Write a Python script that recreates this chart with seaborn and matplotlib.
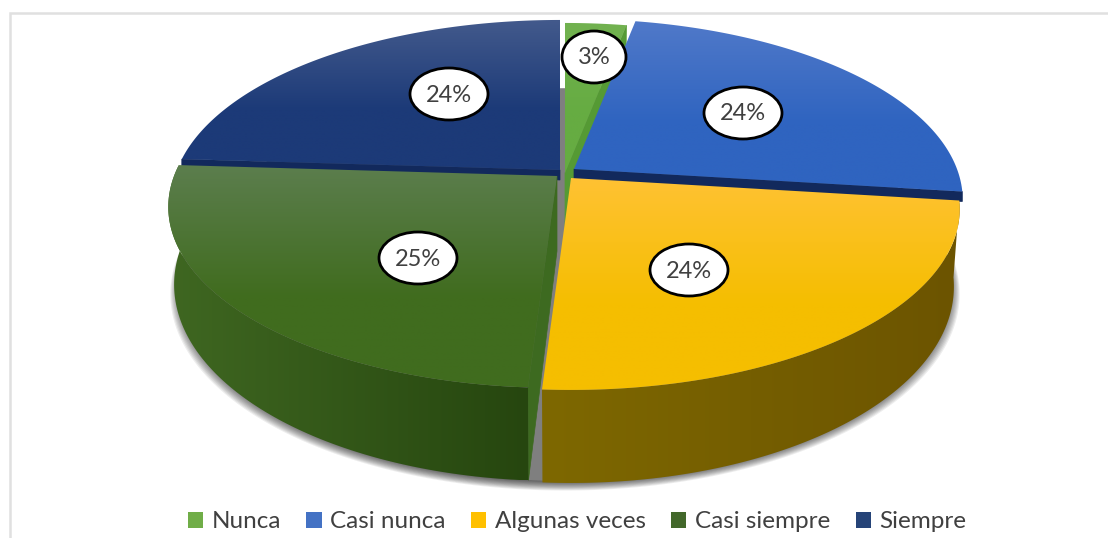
import numpy as np
import matplotlib
matplotlib.use('Agg')
import matplotlib.pyplot as plt
from matplotlib.colors import to_rgb
from matplotlib.patches import Ellipse, Patch, Polygon, Rectangle
import seaborn as sns

categories = ['Nunca', 'Casi nunca', 'Algunas veces', 'Casi siempre', 'Siempre']
values = [3, 24, 24, 25, 24]
legend_colors = ['#70AD47', '#4472C4', '#FFC000', '#43682B', '#264478']

# colores del degradado: superficie (arriba, abajo), pared (izq, der), corte
top_from = ['#72B250', '#5079C9', '#FFC233', '#5C7E4E', '#435A8C']
top_to = ['#66AC42', '#2F64C0', '#F5BE00', '#406C1E', '#1C3A78']
wall_from = ['#4E8A30', '#1F4C9A', '#7E6800', '#3F6721', '#14305F']
wall_to = ['#4E8A30', '#1F4C9A', '#6C5400', '#26460F', '#14305F']
cut_color = ['#559A34', '#12295C', '#7E6800', '#3D6A20', '#12295C']

# centro de cada porcion en pixeles, con su separacion
apex_x = [565, 574, 571, 557, 560]
apex_y = [173, 169, 178, 176, 170]
# orden de dibujo, de atras hacia adelante
draw_order = [4, 0, 1, 3, 2]
# que cara de corte se ve (0 = theta1, -1 = theta2) y cuanto baja
cut_side = [0, 0, None, -1, -1]
cut_depth = [75, 10, 0, 75, 10]
has_wall = [False, False, True, True, False]

label_x = [594, 743, 689, 418, 449]
label_y = [58, 114, 271, 259, 95]
label_w = [64, 78, 78, 78, 78]

CX, B, A = 383.0, 0.171, 175.7  # perspectiva del disco
DROP, SX, SY = 75.0, 0.985, 1.085  # plano inferior

sns.set_theme(style='white')
plt.rcParams['font.family'] = ['Lato', 'Liberation Sans', 'DejaVu Sans']


def project(theta, r, ax0, ay0, lower=False, drop=DROP):
    x = r * np.cos(np.radians(theta))
    y = r * np.sin(np.radians(theta))
    w = 1 + B * y
    px = CX * x / w
    py = A * y / w
    if lower:
        return ax0 + px * SX, ay0 - py * SY + drop
    return ax0 + px, ay0 - py


def gradient_fill(ax, pts, c0, c1, horizontal=False, zorder=2, span=1.0):
    patch = Polygon(pts, closed=True, fc='none', ec='none', zorder=zorder)
    ax.add_patch(patch)
    c0, c1 = np.array(to_rgb(c0)), np.array(to_rgb(c1))
    t = np.clip(np.linspace(0, 1, 256) / span, 0, 1)
    col = c0[None, :] * (1 - t[:, None]) + c1[None, :] * t[:, None]
    img = col[None, :, :] if horizontal else col[:, None, :]
    x0, x1 = pts[:, 0].min(), pts[:, 0].max()
    y0, y1 = pts[:, 1].min(), pts[:, 1].max()
    im = ax.imshow(img, extent=[x0, x1, y1, y0], aspect='auto', zorder=zorder, interpolation='bilinear')
    im.set_clip_path(patch)


def draw_slice(ax, i, theta1, theta2, zorder):
    ax0, ay0 = apex_x[i], apex_y[i]
    th = np.linspace(theta1, theta2, 120)
    tx, ty = project(th, 1.0, ax0, ay0)
    bx, by = project(th, 1.0, ax0, ay0, lower=True)

    # cara de corte visible
    if cut_side[i] is not None:
        k = cut_side[i]
        d = cut_depth[i]
        if d == DROP:
            low_x, low_y = bx[k], by[k]
        else:
            low_x, low_y = tx[k], ty[k] + d
        face = np.array([[ax0, ay0], [tx[k], ty[k]], [low_x, low_y], [ax0, ay0 + d]])
        ax.add_patch(Polygon(face, closed=True, fc=cut_color[i], ec=cut_color[i], lw=0.5, zorder=zorder))

    # pared
    if has_wall[i]:
        wall = np.column_stack([np.r_[tx, bx[::-1]], np.r_[ty, by[::-1]]])
        gradient_fill(ax, wall, wall_from[i], wall_to[i], horizontal=True, zorder=zorder + 0.1)

    # superficie
    top = np.column_stack([np.r_[ax0, tx], np.r_[ay0, ty]])
    gradient_fill(ax, top, top_from[i], top_to[i], zorder=zorder + 0.2, span=0.6)


def main():
    palette = sns.color_palette(legend_colors)
    fig = plt.figure(figsize=(11.08, 5.38), dpi=100, facecolor='white')
    ax = fig.add_axes([0, 0, 1, 1])

    # angulos desde la propia torta de matplotlib
    wedges, _ = ax.pie(values, startangle=90, counterclock=False)
    angles = [(w.theta1, w.theta2) for w in wedges]
    for w in wedges:
        w.remove()

    ax.set_aspect('auto')
    ax.axis('off')

    # marco del grafico
    ax.plot([10, 10, 1108], [538, 13, 13], color='#E0E0E0', lw=1.8, zorder=1, solid_joinstyle='miter')

    # sombra y suelo
    th = np.linspace(0, 360, 360)
    gx, gy = project(th, 1.0, 565, 176, lower=True)
    clip = Rectangle((0, 255), 1108, 283, transform=ax.transData)
    for grow in range(12, 0, -1):
        sx = 565 + (gx - 565) * (1 + grow / 390)
        sy = gy + grow * 0.8
        p = Polygon(np.column_stack([sx, sy]), closed=True, fc='black', ec='none', alpha=0.07, zorder=1.2)
        ax.add_patch(p)
        p.set_clip_path(clip)
    ax.add_patch(Polygon(np.column_stack([gx, gy]), closed=True, fc='#7F7F7F', ec='none', zorder=1.5))

    for n, i in enumerate(draw_order):
        draw_slice(ax, i, angles[i][0], angles[i][1], 2 + n)

    # etiquetas
    for i, v in enumerate(values):
        ax.add_patch(Ellipse((label_x[i], label_y[i] - 1), label_w[i], 52, fc='white', ec='black', lw=2, zorder=10))
        ax.text(label_x[i], label_y[i], f'{v}%', ha='center', va='center', fontsize=17, color='#404040',
                fontweight='normal', zorder=11)

    handles = [Patch(fc=palette[i], ec='none', label=categories[i]) for i in range(len(categories))]
    ax.legend(handles=handles, ncol=5, frameon=False, loc='center', bbox_to_anchor=(577 / 1108, 1 - 522 / 538),
              bbox_transform=fig.transFigure, prop={'size': 17.5, 'weight': 'normal'}, labelcolor='#404040',
              handlelength=0.62, handleheight=0.62, handletextpad=0.35, columnspacing=1.05)

    ax.set_xlim(0, 1108)
    ax.set_ylim(538, 0)
    fig.savefig('out.png', dpi=100)


if __name__ == '__main__':
    main()
